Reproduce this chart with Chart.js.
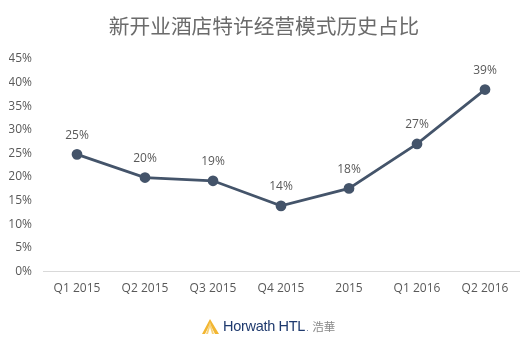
<!DOCTYPE html>
<html><head><meta charset="utf-8">
<script src="https://cdn.jsdelivr.net/npm/chart.js@4/dist/chart.umd.min.js"></script>
<style>
html,body{margin:0;padding:0;background:#fff;}
#wrap{position:relative;width:526px;height:351px;}
#logo{position:absolute;left:202px;top:316px;height:20px;display:flex;align-items:center;font-family:"Liberation Sans",Arial,sans-serif;}
#logo .h{color:#1f3a6e;font-size:14.5px;letter-spacing:-0.3px;margin-left:4px;}
#logo .dot{color:#1f3a6e;font-size:8px;margin-left:1px;align-self:flex-end;margin-bottom:3px;}
#logo .c{color:#8a8a8a;font-size:11.5px;margin-left:4px;font-family:"Noto Sans CJK SC",sans-serif;}
</style></head>
<body><div id="wrap"><canvas id="c" width="526" height="351"></canvas>
<div id="logo"><svg width="17" height="15" viewBox="0 0 17 15"><polygon points="8,0 17,15 13,15 8,5 3,15 0,15" fill="#f2b632"/><polygon points="8,3 12,15 10,15 8,8 6,15 4,15" fill="#f7d27a"/></svg><span class="h">Horwath HTL</span><span class="dot">.</span><span class="c">浩華</span></div>
</div>
<script>
const categories = ["Q1 2015","Q2 2015","Q3 2015","Q4 2015","2015","Q1 2016","Q2 2016"];
const shareValues = [24.8, 19.9, 19.2, 13.9, 17.6, 27.0, 38.5];
const yTicks = [0,5,10,15,20,25,30,35,40,45];

const labelPlugin = {
  id:'pointLabels',
  afterDatasetsDraw(chart){
    const ctx = chart.ctx;
    const meta = chart.getDatasetMeta(0);
    ctx.save();
    ctx.font = '12px "Open Sans", sans-serif';
    ctx.fillStyle = '#595959';
    ctx.textAlign = 'center';
    ctx.textBaseline = 'middle';
    meta.data.forEach((pt,i)=>{
      ctx.fillText(Math.round(shareValues[i])+'%', pt.x, pt.y-19);
    });
    ctx.restore();
  }
};

new Chart(document.getElementById('c'),{
  type:'line',
  data:{labels:categories,datasets:[{
    data:shareValues,
    borderColor:'#44546a',
    backgroundColor:'#44546a',
    borderWidth:2.75,
    pointRadius:4,
    pointBackgroundColor:'#44546a',
    pointBorderColor:'#44546a',
    tension:0,
    clip:false
  }]},
  options:{
    responsive:false,
    animation:false,
    devicePixelRatio:1,
    layout:{padding:{left:9,right:7,top:0,bottom:45}},
    plugins:{
      legend:{display:false},
      tooltip:{enabled:false},
      title:{display:true,text:'新开业酒店特许经营模式历史占比',color:'#6b6b6b',
        font:{family:'"Noto Sans CJK SC", sans-serif',size:20.7,weight:'normal'},
        padding:{top:14,bottom:20}}
    },
    scales:{
      x:{offset:true,grid:{display:false,drawTicks:false},
        border:{display:true,color:'#d9d9d9',width:1},
        ticks:{color:'#595959',font:{family:'"Open Sans", sans-serif',size:12},padding:10,maxRotation:0}},
      y:{min:0,max:45,
        afterBuildTicks(axis){axis.ticks = yTicks.map(v=>({value:v}));},
        afterFit(axis){axis.width = 34;},
        grid:{display:false,drawTicks:false},border:{display:false},
        ticks:{color:'#595959',font:{family:'"Open Sans", sans-serif',size:12},padding:11,
          callback:v=>v+'%'}}
    }
  },
  plugins:[labelPlugin]
});
</script></body></html>
